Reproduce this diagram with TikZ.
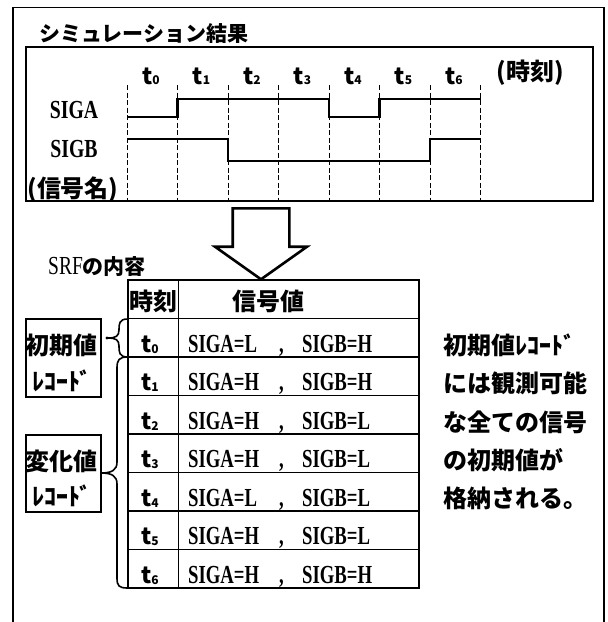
\documentclass[tikz,border=0pt]{standalone}
\usepackage{fontspec}
\usepackage{graphicx}
\setmainfont{Liberation Serif}
\newfontfamily\jp{Noto Sans CJK JP}
\newcommand\vtxt[1]{\scalebox{0.72}[1]{\bfseries\fontsize{26}{26}\selectfont #1}}
\newcommand\sgtxt[1]{\scalebox{0.76}[1]{\bfseries\fontsize{26}{26}\selectfont #1}}
\begin{document}
\begin{tikzpicture}[x=1pt,y=-1pt,
  frame/.style={line width=1.4pt},
  boxline/.style={line width=2pt},
  sig/.style={line width=2.2pt},
  gridline/.style={line width=1pt,dash pattern=on 5pt off 2.5pt},
  tbl/.style={line width=1.6pt},
  jpt/.style={font=\jp\bfseries\fontsize{21}{21}\selectfont,inner sep=0pt},
  jpb/.style={font=\jp\bfseries\fontsize{24}{24}\selectfont,inner sep=0pt},
  sigl/.style={inner sep=0pt},
  val/.style={inner sep=0pt},
  tl/.style={font=\jp\bfseries\fontsize{23}{23}\selectfont,inner sep=0pt}]
\useasboundingbox (0,0) rectangle (608,622);
\fill[white] (0,0) rectangle (608,622);
% outer frame (open at bottom)
\draw[frame] (13,622) -- (13,7.5) -- (604,7.5) -- (604,622);
% title
\node[jpt,anchor=base west] (title) at (39,41) {シミュレーション結果};
% inner box
\draw[boxline] (25.5,47) rectangle (593,201);
% dashed time lines
\foreach \k in {0,...,7}{
  \draw[gridline] ({127+50.5*\k},85) -- ({127+50.5*\k},201);
}
% time labels
\foreach \k in {0,...,6}{
  \node[tl,anchor=base] (tt\k) at ({151+50.5*\k},84) {t\raisebox{0pt}{\fontsize{12}{12}\selectfont\k}};
}
\node[jpb,anchor=base] (jikoku) at (530,80) {(時刻)};
% signal labels
\node[sigl] (siga) at (74,110) {\sgtxt{SIGA}};
\node[sigl] (sigb) at (74,149) {\sgtxt{SIGB}};
\node[jpb] (signame) at (73,190) {(信号名)};
% waveforms
\draw[sig] (127,116.7) -- (177.5,116.7) -- (177.5,98.7) -- (329,98.7) -- (329,116.7)
  -- (379.5,116.7) -- (379.5,98.7) -- (480.5,98.7);
\draw[sig] (127,139) -- (228,139) -- (228,161) -- (430,161) -- (430,139) -- (480.5,139);
% big hollow arrow
\draw[line width=2.6pt,fill=white,line join=miter] (232.7,208.3) -- (289.3,208.3) -- (289.3,246.7)
  -- (307,246.7) -- (261,279.3) -- (215,246.7) -- (232.7,246.7) -- cycle;
% SRF label
\node[font=\jp\bfseries\fontsize{21}{21}\selectfont,inner sep=0pt,anchor=base west] (srf) at (48,274) {\scalebox{0.75}[1]{\rmfamily\mdseries\fontsize{26}{26}\selectfont SRF}の内容};
% table
\draw[tbl,line width=2pt] (127.7,279.5) rectangle (419,588);
\draw[tbl] (178.3,279.5) -- (178.3,588);
\foreach \r in {318.5,357,395.5,434,472.5,511,549.5}{
  \draw[tbl] (127.7,\r) -- (419,\r);
}
\node[jpb,anchor=base] (hj) at (153,310) {時刻};
\node[jpb,anchor=base] (hs) at (268,310) {信号値};
\foreach \i/\a/\b in {0/L/H,1/H/H,2/H/L,3/H/L,4/L/L,5/H/L,6/H/H}{
  \pgfmathsetmacro\yb{357+38.5*\i-5}
  \node[tl,anchor=base] (rt\i) at (150,\yb) {t\raisebox{-1pt}{\fontsize{12}{12}\selectfont\i}};
  \node[val,anchor=base west] (va\i) at (188,\yb) {\vtxt{SIGA=\a}};
  \node[val,anchor=base west] (vc\i) at (279,\yb) {\vtxt{,}};
  \node[val,anchor=base west] (vb\i) at (302,\yb) {\vtxt{SIGB=\b}};
}
% left record boxes
\draw[line width=1.6pt] (25.7,319) rectangle (101,396.7);
\node[jpb] (ini1) at (62,345) {初期値};
\node[jpb] (ini2) at (62,381) {ﾚｺｰﾄﾞ};
\draw[line width=1.6pt] (25.7,435) rectangle (101,511.7);
\node[jpb] (chg1) at (62,461) {変化値};
\node[jpb] (chg2) at (62,496) {ﾚｺｰﾄﾞ};
% braces
\draw[line width=1.6pt] (127.7,319) .. controls (119,319) and (119,324) .. (119,330)
  .. controls (119,336) and (116,338) .. (108,338)
  .. controls (116,338) and (119,340) .. (119,346)
  .. controls (119,352) and (119,357) .. (127.7,357);
\fill (107,338) circle (1.6pt);
\draw[line width=1.6pt] (127.7,357) .. controls (119,357) and (117,360) .. (117,368)
  -- (117,462) .. controls (117,470) and (112,473) .. (101,473)
  .. controls (112,473) and (117,476) .. (117,484)
  -- (117,578) .. controls (117,586) and (119,588) .. (127.7,588);
% right explanation
\node[jpb,anchor=west] (e1) at (443,345) {初期値ﾚｺｰﾄﾞ};
\node[jpb,anchor=west] (e2) at (443,383) {には観測可能};
\node[jpb,anchor=west] (e3) at (443,422) {な全ての信号};
\node[jpb,anchor=west] (e4) at (443,460) {の初期値が};
\node[jpb,anchor=west] (e5) at (443,498) {格納される。};
\end{tikzpicture}
\end{document}
